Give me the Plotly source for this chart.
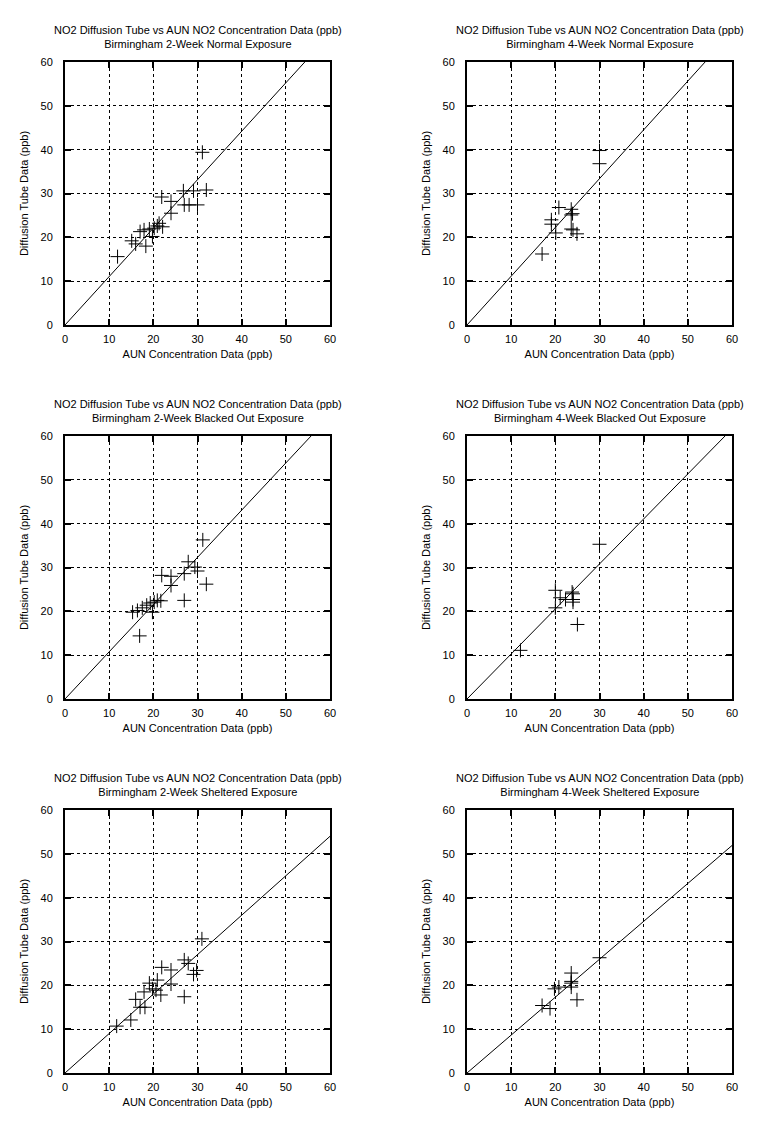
import plotly.graph_objects as go

titles = [
    "Birmingham 2-Week Normal Exposure",
    "Birmingham 4-Week Normal Exposure",
    "Birmingham 2-Week Blacked Out Exposure",
    "Birmingham 4-Week Blacked Out Exposure",
    "Birmingham 2-Week Sheltered Exposure",
    "Birmingham 4-Week Sheltered Exposure",
]
main_title = "NO2 Diffusion Tube vs AUN NO2 Concentration Data (ppb)"
x_title = "AUN Concentration Data (ppb)"
y_title = "Diffusion Tube Data (ppb)"
tick_vals = [0, 10, 20, 30, 40, 50, 60]

x1 = [31.1, 26.8, 29.1, 32.0, 21.9, 24.0, 27.0, 28.1, 30.0, 24.0, 21.3, 20.9, 22.1, 20.2, 19.1, 17.9, 17.0, 19.8, 15.1, 16.0, 18.3, 11.9]
y1 = [39.4, 30.6, 30.6, 30.8, 29.2, 28.2, 27.4, 27.4, 27.4, 25.5, 23.2, 22.6, 22.4, 22.1, 21.9, 21.7, 21.3, 20.2, 19.2, 18.5, 18.0, 15.6]

x2 = [30.0, 30.0, 20.8, 23.6, 23.6, 23.9, 19.1, 19.1, 20.1, 23.6, 24.0, 24.9, 17.0]
y2 = [39.8, 36.8, 26.8, 26.4, 25.1, 25.4, 24.0, 23.0, 21.0, 21.9, 21.7, 20.8, 16.2]

x3 = [31.2, 27.9, 29.4, 30.0, 27.0, 21.9, 24.0, 24.0, 32.0, 27.0, 20.9, 21.7, 20.2, 19.3, 18.5, 17.5, 16.4, 15.3, 19.8, 16.9]
y3 = [36.3, 31.3, 30.1, 29.2, 28.6, 28.2, 28.0, 25.9, 26.2, 22.5, 22.5, 22.4, 22.1, 21.9, 21.4, 20.8, 20.2, 19.8, 19.8, 14.4]

x4 = [30.0, 20.0, 21.1, 22.3, 23.8, 24.0, 24.0, 24.0, 20.0, 25.0, 12.1]
y4 = [35.3, 24.8, 23.1, 22.7, 24.4, 24.0, 22.7, 22.1, 20.8, 17.0, 11.1]

x5 = [31.0, 27.0, 27.9, 21.9, 24.0, 29.8, 29.1, 20.9, 19.1, 24.0, 19.8, 20.6, 17.9, 21.7, 27.0, 16.0, 17.0, 18.1, 14.9, 11.7]
y5 = [30.6, 25.8, 25.0, 24.1, 23.5, 23.4, 22.5, 21.2, 20.5, 20.3, 19.2, 18.9, 18.5, 17.8, 17.4, 16.8, 15.0, 15.0, 12.1, 10.7]

x6 = [30.0, 23.6, 23.6, 23.6, 23.6, 20.8, 19.8, 24.9, 17.0, 18.8]
y6 = [26.3, 22.8, 20.9, 20.5, 19.6, 19.6, 19.2, 16.7, 15.4, 14.7]

slopes = [1.105, 1.113, 1.077, 1.027, 0.90, 0.865]

xs = [x1, x2, x3, x4, x5, x6]
ys = [y1, y2, y3, y4, y5, y6]

W, H = 774, 1134
OFF = 8  # page body margin
col_px = [(65 - OFF, 330 - OFF), (467 - OFF, 732 - OFF)]
row_px = [(62 - OFF, 325 - OFF), (436 - OFF, 699 - OFF), (810 - OFF, 1073 - OFF)]
FONT = "Liberation Sans, Arial, Helvetica, sans-serif"

fig = go.Figure()
layout = dict(
    width=W, height=H,
    margin=dict(l=0, r=0, t=0, b=0, autoexpand=False),
    paper_bgcolor="white", plot_bgcolor="white",
    showlegend=False,
    font=dict(family=FONT, size=11, color="black"),
)
annotations = []

for i in range(6):
    r, c = divmod(i, 2)
    x0, x1p = col_px[c]
    yt, yb = row_px[r]
    n = i + 1
    xa = "x" if n == 1 else f"x{n}"
    ya = "y" if n == 1 else f"y{n}"
    axis_common = dict(
        range=[0, 60], tickvals=tick_vals, ticks="inside", ticklen=6,
        tickwidth=1.5, tickcolor="black", showline=True, linecolor="black",
        linewidth=2, mirror="ticks", showgrid=True, gridcolor="black",
        gridwidth=1, griddash="3px,3px", zeroline=False,
        tickfont=dict(family=FONT, size=11, color="black"),
        fixedrange=True, automargin=False,
    )
    layout[f"xaxis{n}" if n > 1 else "xaxis"] = dict(
        axis_common, domain=[x0 / W, x1p / W], anchor=ya,
        title=dict(text=x_title, standoff=6, font=dict(size=11)),
        ticklabelstandoff=3,
    )
    layout[f"yaxis{n}" if n > 1 else "yaxis"] = dict(
        axis_common, domain=[1 - yb / H, 1 - yt / H], anchor=xa,
        title=dict(text=y_title, standoff=10, font=dict(size=11)),
        ticklabelstandoff=8,
    )
    fig.add_trace(go.Scatter(
        x=[0, 60], y=[0, slopes[i] * 60], mode="lines",
        line=dict(color="black", width=1), xaxis=xa, yaxis=ya,
        hoverinfo="skip",
    ))
    fig.add_trace(go.Scatter(
        x=xs[i], y=ys[i], mode="markers",
        marker=dict(symbol="cross-thin", size=10, color="black",
                    line=dict(color="black", width=1)),
        xaxis=xa, yaxis=ya, cliponaxis=False,
    ))
    cx = (x0 + x1p) / 2 / W
    annotations.append(dict(
        text=main_title + "<br>" + titles[i], x=cx, y=1 - (yt - 10) / H,
        xref="paper", yref="paper", xanchor="center", yanchor="bottom",
        showarrow=False, font=dict(family=FONT, size=11, color="black"),
        align="center",
    ))

layout["annotations"] = annotations
fig.update_layout(**layout)
fig.write_html("out.html")
